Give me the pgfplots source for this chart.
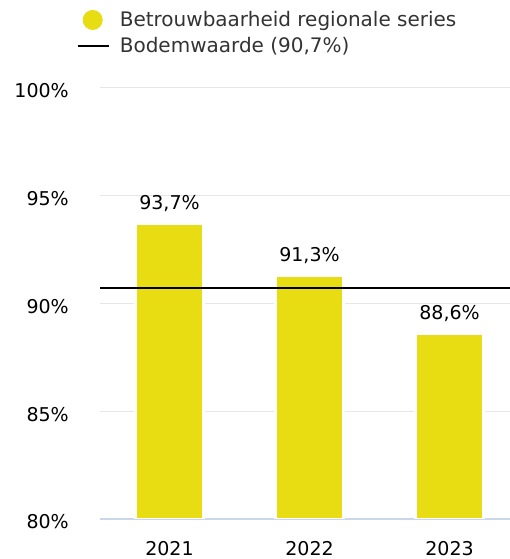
\documentclass[border=0pt]{standalone}
\usepackage{fontspec}
\setmainfont{DejaVu Sans}
\usepackage{pgfplots}
\pgfplotsset{compat=1.18}
\pgfplotsset{/pgf/number format/assume math mode=true}
\definecolor{barcol}{HTML}{E8DC12}
\definecolor{gridcol}{HTML}{E6E6E6}
\definecolor{axiscol}{HTML}{CCD6EB}
\definecolor{legtext}{HTML}{333333}

\begin{document}
\begin{tikzpicture}
\useasboundingbox (-100bp,-40bp) rectangle (410bp,519bp);
\begin{axis}[
  scale only axis,
  width=410bp, height=431bp,
  xmin=-0.4964, xmax=2.432,
  ymin=80, ymax=100,
  axis x line*=bottom,
  axis y line*=left,
  x axis line style={axiscol, line width=1.5bp},
  y axis line style={draw=none},
  xtick={0,1,2},
  xticklabels={2021,2022,2023},
  ytick={80,85,90,95,100},
  yticklabels={80\%,85\%,90\%,95\%,100\%},
  major tick length=0pt,
  ymajorgrids,
  grid style={gridcol, line width=1bp},
  ticklabel style={font=\fontsize{19bp}{23bp}\selectfont, text=black},
  xticklabel style={anchor=north, inner sep=0pt, yshift=-22bp},
  yticklabel style={anchor=east, inner sep=0pt, xshift=-31bp, yshift=-3bp},
  legend cell align=left,
  legend style={
    at={(-0.0568,1.188)}, anchor=north west,
    draw=none, fill=none, inner sep=0pt, outer sep=0pt,
    row sep=0pt, column sep=9.5bp,
    font=\fontsize{20bp}{24bp}\selectfont,
    text=legtext,
    nodes={inner sep=0pt}
  },
]
% betrouwbaarheid per jaar
\addplot[
  ybar, bar width=68bp,
  fill=barcol, draw=white, line width=2.5bp,
  nodes near coords={\pgfmathprintnumber[fixed,fixed zerofill,precision=1,use comma]{\pgfplotspointmeta}\%},
  every node near coord/.append style={font=\fontsize{19bp}{23bp}\selectfont, text=black, anchor=south, inner sep=0pt, yshift=11bp},
  legend image code/.code={
    \path[draw=none, fill=none] (0bp,-13bp) rectangle (31.6bp,13bp);
    \path[fill=barcol, draw=none] (15bp,0bp) circle[radius=10bp];
  },
] coordinates {(0,93.7) (1,91.3) (2,88.6)};
\addlegendentry{Betrouwbaarheid regionale series}
% bodemwaarde
\addplot[
  black, line width=2bp,
  legend image code/.code={
    \path[draw=none, fill=none] (0bp,-13bp) rectangle (31.6bp,13bp);
    \path[draw=black, fill=none, line width=2bp] (0bp,0bp) -- (31.6bp,0bp);
  },
] coordinates {(-0.4964,90.7) (2.432,90.7)};
\addlegendentry{Bodemwaarde (90,7\%)}
\end{axis}
\end{tikzpicture}
\end{document}
